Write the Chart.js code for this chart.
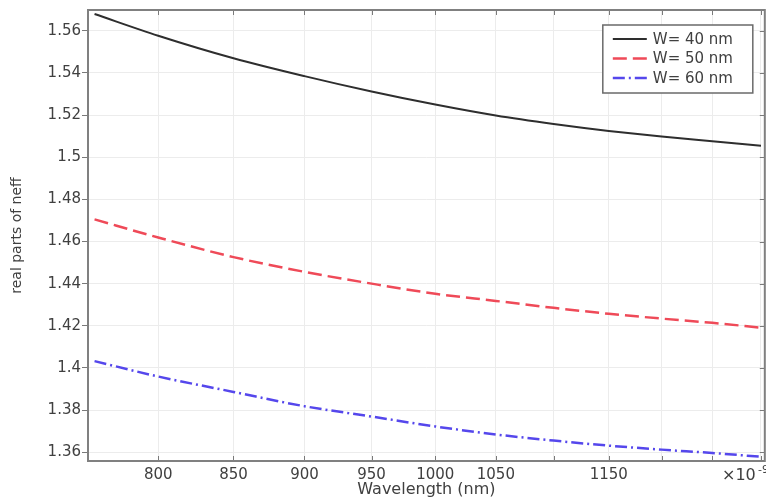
<!DOCTYPE html>
<html>
<head>
<meta charset="utf-8">
<script src="https://cdn.jsdelivr.net/npm/chart.js@4.4.0/dist/chart.umd.min.js"></script>
<style>
  html, body { margin: 0; padding: 0; background: #fff; overflow: hidden; }
</style>
</head>
<body>
<canvas id="myChart" width="766" height="500"></canvas>
<script>
// wavelength in nm, neff for the three widths
const wavelength = [760, 800, 850, 900, 950, 1000, 1050, 1100, 1150, 1200, 1250, 1300];
const neff40 = [1.5680, 1.5577, 1.5470, 1.5385, 1.5312, 1.5250, 1.5198, 1.5158, 1.5125, 1.5098, 1.5076, 1.5055];
const neff50 = [1.4705, 1.4619, 1.4526, 1.4456, 1.4400, 1.4352, 1.4318, 1.4285, 1.4257, 1.4234, 1.4214, 1.4191];
const neff60 = [1.4032, 1.3959, 1.3886, 1.3818, 1.3769, 1.3722, 1.3684, 1.3655, 1.3631, 1.3612, 1.3596, 1.3578];
const seriesNames = ["W= 40 nm", "W= 50 nm", "W= 60 nm"];

const xTicks = [800, 850, 900, 950, 1000, 1050, 1100, 1150, 1200, 1250, 1300];
const xLabels = ["800", "850", "900", "950", "1000", "1050", "", "1150", "", "", ""];
const yTicks = [1.36, 1.38, 1.4, 1.42, 1.44, 1.46, 1.48, 1.5, 1.52, 1.54, 1.56];

const FONT = "DejaVu Sans";
const TXT = "#404040";

function pts(ys) {
  return wavelength.map((w, i) => ({ x: w, y: ys[i] }));
}

// frame, inner tick marks and the exponent note
const frameTicks = {
  id: "frameTicks",
  afterDraw(chart) {
    const { ctx, chartArea: a, scales } = chart;
    const x = scales.x, y = scales.y;
    ctx.save();
    ctx.strokeStyle = "#7a7a7a";
    ctx.lineWidth = 1;
    ctx.beginPath();
    x.ticks.forEach((t) => {
      const px = Math.round(x.getPixelForValue(t.value)) + 0.5;
      ctx.moveTo(px, a.bottom);
      ctx.lineTo(px, a.bottom - 5);
      ctx.moveTo(px, a.top);
      ctx.lineTo(px, a.top + 5);
    });
    y.ticks.forEach((t) => {
      const py = Math.round(y.getPixelForValue(t.value)) + 0.5;
      ctx.moveTo(a.right, py);
      ctx.lineTo(a.right - 5, py);
    });
    ctx.stroke();
    ctx.strokeStyle = "#808080";
    ctx.lineWidth = 2;
    ctx.strokeRect(a.left, a.top, a.right - a.left, a.bottom - a.top);

    // runs off the right edge of the canvas
    ctx.fillStyle = TXT;
    ctx.textBaseline = "middle";
    ctx.font = "16px '" + FONT + "'";
    ctx.fillText("\u00d710", 722, a.bottom + 15);
    ctx.font = "11px '" + FONT + "'";
    ctx.fillText("-9", 758, a.bottom + 9);
    ctx.restore();
  },
};

// legend box in the upper right of the plot
const legendBox = {
  id: "legendBox",
  afterDraw(chart) {
    const { ctx, chartArea: a } = chart;
    const bx = a.right - 162, by = a.top + 15, bw = 150, bh = 68;
    ctx.save();
    ctx.fillStyle = "#fff";
    ctx.fillRect(bx, by, bw, bh);
    ctx.strokeStyle = "#6a6a6a";
    ctx.lineWidth = 1.5;
    ctx.strokeRect(bx, by, bw, bh);
    ctx.font = "15px '" + FONT + "'";
    ctx.textBaseline = "middle";
    chart.data.datasets.forEach((ds, i) => {
      const ly = by + 14 + i * 19.5;
      ctx.strokeStyle = ds.borderColor;
      ctx.lineWidth = ds.borderWidth;
      ctx.setLineDash(ds.borderDash || []);
      ctx.beginPath();
      ctx.moveTo(bx + 10, ly);
      ctx.lineTo(bx + 44, ly);
      ctx.stroke();
      ctx.setLineDash([]);
      ctx.fillStyle = TXT;
      ctx.fillText(ds.label, bx + 50, ly + 1);
    });
    ctx.restore();
  },
};

const ctx = document.getElementById("myChart");

new Chart(ctx, {
  type: "line",
  data: {
    datasets: [
      {
        label: seriesNames[0],
        data: pts(neff40),
        borderColor: "#2e2e2e",
        borderWidth: 2,
        pointRadius: 0,
        cubicInterpolationMode: "monotone",
      },
      {
        label: seriesNames[1],
        data: pts(neff50),
        borderColor: "#ef4a58",
        borderWidth: 2.5,
        borderDash: [14, 6],
        pointRadius: 0,
        cubicInterpolationMode: "monotone",
      },
      {
        label: seriesNames[2],
        data: pts(neff60),
        borderColor: "#5547ec",
        borderWidth: 2.5,
        borderDash: [12, 4, 2, 4],
        pointRadius: 0,
        cubicInterpolationMode: "monotone",
      },
    ],
  },
  options: {
    responsive: false,
    animation: false,
    devicePixelRatio: 1,
    layout: { padding: { top: 6, right: 1, left: 0, bottom: 0 } },
    plugins: {
      legend: { display: false },
      tooltip: { enabled: false },
    },
    scales: {
      x: {
        type: "logarithmic",
        min: 756,
        max: 1304,
        afterBuildTicks(scale) {
          scale.ticks = xTicks.map((v) => ({ value: v }));
        },
        afterFit(scale) {
          scale.height = 39;
        },
        grid: { color: "#ececec", drawTicks: false },
        border: { display: false },
        ticks: {
          autoSkip: false,
          maxRotation: 0,
          padding: 5,
          color: TXT,
          font: { family: FONT, size: 15 },
          callback: (v, i) => xLabels[i],
        },
        title: {
          display: true,
          text: "Wavelength (nm)",
          color: TXT,
          font: { family: FONT, size: 16 },
          padding: { top: 0, bottom: 1 },
        },
      },
      y: {
        min: 1.3558,
        max: 1.5699,
        afterBuildTicks(scale) {
          scale.ticks = yTicks.map((v) => ({ value: v }));
        },
        afterFit(scale) {
          scale.width = 88;
        },
        grid: { color: "#ececec", tickLength: 6, tickColor: "#7a7a7a" },
        border: { display: false },
        ticks: {
          padding: 1,
          color: TXT,
          font: { family: FONT, size: 15 },
          callback: (v) => String(+v.toFixed(2)),
        },
        title: {
          display: true,
          text: "real parts of neff",
          color: TXT,
          font: { family: FONT, size: 14 },
          padding: { top: 9, bottom: 0 },
        },
      },
    },
  },
  plugins: [frameTicks, legendBox],
});
</script>
</body>
</html>
